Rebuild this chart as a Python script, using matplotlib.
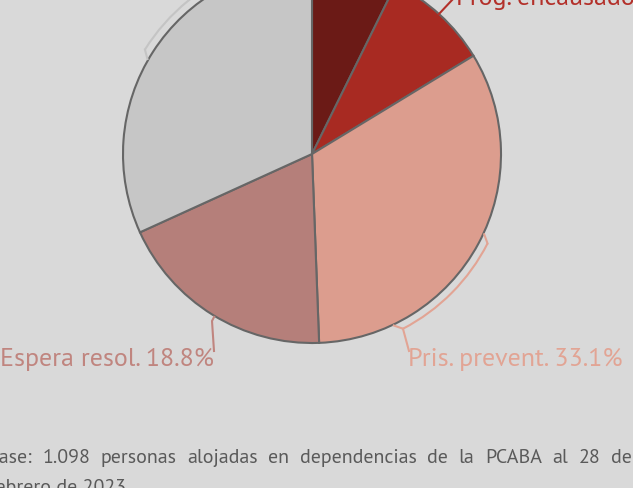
import numpy as np
import matplotlib.pyplot as plt
from matplotlib.patches import Arc

# slices, clockwise from 12 o'clock
labels = ['Condenados', 'Prog. encausado', 'Pris. prevent.', 'Espera resol.', 'Otros']
values = [7.3, 9.0, 33.1, 18.8, 31.8]
colors = ['#6b1a16', '#a82a22', '#dc9d8e', '#b57f7a', '#c6c6c6']
label_colors = ['#6b1a16', '#b3302a', '#e2a494', '#c0857f', '#bcbcbc']
note_lines = ['Base: 1.098 personas alojadas en dependencias de la PCABA al 28 de',
              'febrero de 2023']

bg = '#d9d9d9'
fig = plt.figure(figsize=(6.33, 4.89), dpi=100, facecolor=bg)
ax = fig.add_axes([0, 0, 1, 1])
ax.set_facecolor(bg)

cx, cy, R = 312, 334, 189
ax.pie(values, colors=colors, startangle=90, counterclock=False,
       center=(cx, cy), radius=R, frame=True,
       wedgeprops=dict(edgecolor='#666666', linewidth=1.5))
ax.set_xlim(0, 633)
ax.set_ylim(0, 489)
ax.axis('off')

lab_font = dict(family=['PT Sans', 'DejaVu Sans'], fontsize=18.7)


def pt(angle, r):
    # angle in degrees clockwise from 12 o'clock
    a = np.deg2rad(90 - angle)
    return cx + r * np.cos(a), cy + r * np.sin(a)


def bracket(a1, a2, col, rb=197, tick=7):
    arc = Arc((cx, cy), 2 * rb, 2 * rb, theta1=90 - a2, theta2=90 - a1,
              color=col, lw=1.5)
    ax.add_patch(arc)
    for a in (a1, a2):
        x0, y0 = pt(a, rb)
        x1, y1 = pt(a - 2 if a == a1 else a + 2, rb - tick)
        ax.plot([x0, x1], [y0, y1], color=col, lw=1.5)


# red slice: straight leader from edge
x0, y0 = pt(42.2, R)
ax.plot([x0, 453], [y0, 489], color=label_colors[1], lw=1.5)
ax.text(456, 484, f'{labels[1]} {values[1]:.1f}%', color=label_colors[1],
        ha='left', va='baseline', **lab_font)

# pink slice
bracket(117, 152.5, label_colors[2])
x0, y0 = pt(152.5, 197)
ax.plot([x0, 409], [y0, 137], color=label_colors[2], lw=1.5)
ax.text(408, 123, f'{labels[2]} {values[2]:.1f}%', color=label_colors[2],
        ha='left', va='baseline', **lab_font)

# mauve slice
x0, y0 = pt(211.0, R + 1)
ax.plot([x0, 212, 214], [y0, 167, 137], color=label_colors[3], lw=1.5)
ax.text(214, 123, f'{labels[3]} {values[3]:.1f}%', color=label_colors[3],
        ha='right', va='baseline', **lab_font)

# gray slice bracket (label off the top)
bracket(302, 340, '#c4c4c4')

# justified footnote
note_font = dict(family=['PT Sans', 'DejaVu Sans'], fontsize=14.4, color='#5a5a5a')
fig.canvas.draw()
rend = fig.canvas.get_renderer()
words = note_lines[0].split()
widths = []
for w in words:
    t = ax.text(0, 0, w, **note_font)
    widths.append(t.get_window_extent(renderer=rend).width)
    t.remove()
left, right = -13, 632
gap = (right - left - sum(widths)) / (len(words) - 1)
x = left
for w, wd in zip(words, widths):
    ax.text(x, 26, w, ha='left', va='baseline', **note_font)
    x += wd + gap
ax.text(-11, -4, note_lines[1], ha='left', va='baseline', **note_font)

fig.savefig('out.png', dpi=100, facecolor=bg)
